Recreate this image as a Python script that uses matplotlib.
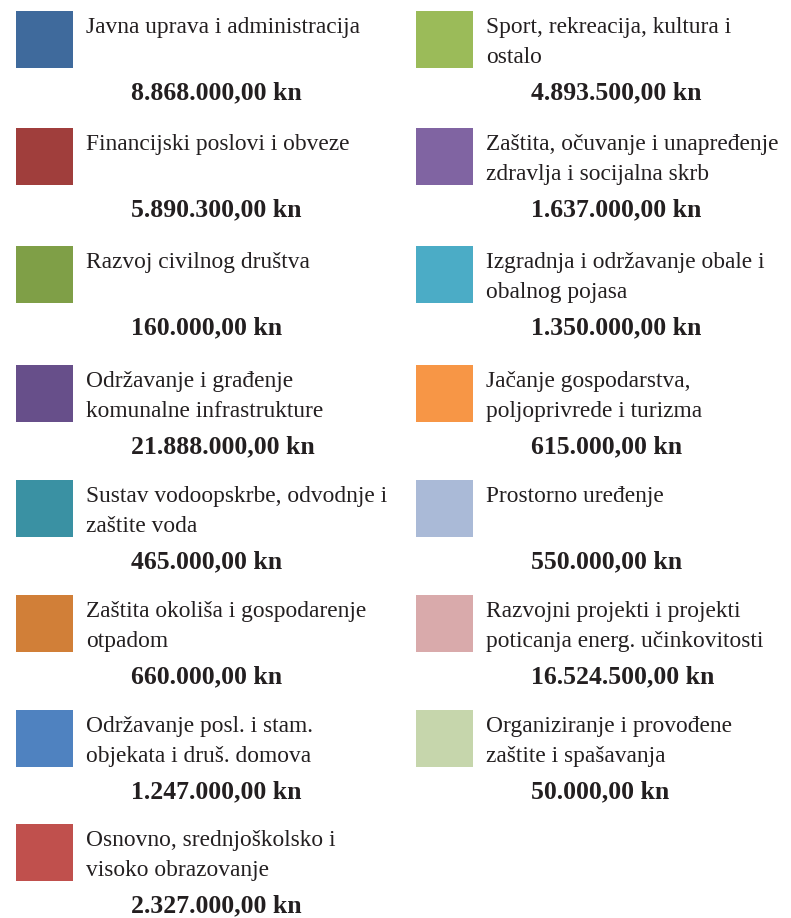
import matplotlib
matplotlib.use("Agg")
import matplotlib.pyplot as plt
from matplotlib.patches import Rectangle

# legend of budget categories (kn)
left_labels = [
    "Javna uprava i administracija",
    "Financijski poslovi i obveze",
    "Razvoj civilnog društva",
    "Održavanje i građenje\nkomunalne infrastrukture",
    "Sustav vodoopskrbe, odvodnje i\nzaštite voda",
    "Zaštita okoliša i gospodarenje\notpadom",
    "Održavanje posl. i stam.\nobjekata i druš. domova",
    "Osnovno, srednjoškolsko i\nvisoko obrazovanje",
]
left_values = [8868000, 5890300, 160000, 21888000, 465000, 660000, 1247000, 2327000]
left_colors = ["#3f6a9c", "#a03e3c", "#7f9f47", "#674f8a",
               "#3a91a3", "#d17f38", "#4f82c0", "#c0504d"]

right_labels = [
    "Sport, rekreacija, kultura i\nostalo",
    "Zaštita, očuvanje i unapređenje\nzdravlja i socijalna skrb",
    "Izgradnja i održavanje obale i\nobalnog pojasa",
    "Jačanje gospodarstva,\npoljoprivrede i turizma",
    "Prostorno uređenje",
    "Razvojni projekti i projekti\npoticanja energ. učinkovitosti",
    "Organiziranje i provođene\nzaštite i spašavanja",
]
right_values = [4893500, 1637000, 1350000, 615000, 550000, 16524500, 50000]
right_colors = ["#9bbb59", "#8064a2", "#4bacc6", "#f79646",
                "#aabad7", "#d9aaab", "#c6d6ac"]

row_tops = [11, 128, 246, 365, 480, 595, 710, 824]
col_x = [16, 416]
TXT = "#231f20"


def fmt_kn(v):
    s = "{:,.2f}".format(v)
    s = s.replace(",", "X").replace(".", ",").replace("X", ".")
    return s + " kn"


fig = plt.figure(figsize=(7.91, 9.18), dpi=100)
ax = fig.add_axes([0, 0, 1, 1])
ax.set_xlim(0, 791)
ax.set_ylim(918, 0)
ax.axis("off")

font = ["Liberation Serif", "DejaVu Serif"]

for col, (labels, values, colors) in enumerate([(left_labels, left_values, left_colors),
                                                 (right_labels, right_values, right_colors)]):
    x0 = col_x[col]
    for i, (lab, val, c) in enumerate(zip(labels, values, colors)):
        y0 = row_tops[i]
        ax.add_patch(Rectangle((x0, y0), 57, 57, facecolor=c, edgecolor="none"))
        for j, line in enumerate(lab.split("\n")):
            ax.text(x0 + 70, y0 + 22 + 30 * j, line, ha="left", va="baseline",
                    fontsize=16.8, family=font, color=TXT)
        ax.text(x0 + 115, y0 + 88, fmt_kn(val), ha="left", va="baseline",
                fontsize=18.5, fontweight="bold", family=font, color=TXT)

fig.savefig("out.png", dpi=100)
